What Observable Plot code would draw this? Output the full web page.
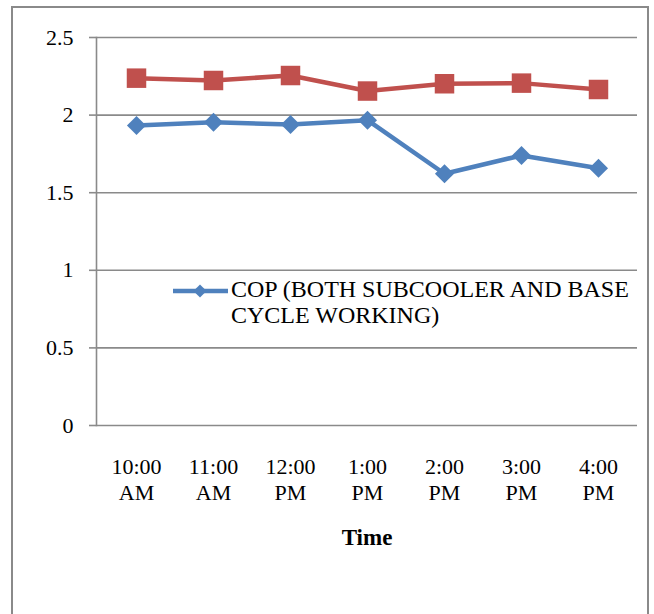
<!DOCTYPE html>
<html>
<head>
<meta charset="utf-8">
<script src="https://cdn.jsdelivr.net/npm/d3@7"></script>
<script src="https://cdn.jsdelivr.net/npm/@observablehq/plot@0.6"></script>
<style>
  html, body { margin: 0; padding: 0; background: #fff; overflow: hidden; }
  #wrap { position: relative; width: 654px; height: 614px; overflow: hidden; font-family: "Liberation Serif", "Times New Roman", serif; }
  #border { position: absolute; left: 11px; top: 6px; width: 638px; height: 700px; border: 2px solid #8a8a8a; box-sizing: border-box; }
  #chart { position: absolute; left: 0; top: 0; }
  #legend { position: absolute; left: 170px; top: 277px; }
  #legend .txt { position: absolute; left: 61px; top: -1px; font-family: "Liberation Serif", "Times New Roman", serif; font-size: 24px; line-height: 26px; white-space: nowrap; color: #000; }
</style>
</head>
<body>
<div id="wrap">
  <div id="border"></div>
  <div id="chart"></div>
  <div id="legend"></div>
</div>
<script>
const times = ["10:00 AM", "11:00 AM", "12:00 PM", "1:00 PM", "2:00 PM", "3:00 PM", "4:00 PM"];
const copBoth = [1.933, 1.954, 1.939, 1.967, 1.622, 1.740, 1.658];
const copOther = [2.238, 2.223, 2.255, 2.155, 2.202, 2.206, 2.165];
const yTicks = [0, 0.5, 1, 1.5, 2, 2.5];
const legendLabel = ["COP (BOTH SUBCOOLER AND BASE", "CYCLE WORKING)"];
const xTitle = "Time";

const blue = "#4f81bd";
const red = "#c0504d";

const dataBlue = times.map((t, i) => ({time: t, value: copBoth[i]}));
const dataRed = times.map((t, i) => ({time: t, value: copOther[i]}));

const chart = Plot.plot({
  width: 654,
  height: 614,
  marginLeft: 96,
  marginRight: 17,
  marginTop: 37,
  marginBottom: 189,
  style: {fontFamily: "'Liberation Serif', 'Times New Roman', serif", fontSize: "22px", color: "#000", background: "transparent"},
  x: {type: "point", domain: times, padding: 0.5},
  y: {domain: [0, 2.5]},
  marks: [
    Plot.gridY(yTicks, {stroke: "#8a8a8a", strokeOpacity: 1, strokeWidth: 1.6}),
    Plot.axisY(yTicks, {tickSize: 7, tickPadding: 16, stroke: "#8a8a8a", strokeWidth: 1.6, tickFormat: d => String(d), fontSize: 22, label: null}),
    Plot.frame({anchor: "left", stroke: "#8a8a8a", strokeWidth: 1.6}),
    Plot.axisX({tickSize: 0, tickPadding: 31, tickFormat: d => d.replace(" ", "\n"), fontSize: 22, lineHeight: 1.15, label: null}),
    Plot.text([xTitle], {frameAnchor: "bottom", dy: 119, fontWeight: "bold", fontSize: 23}),
    Plot.line(dataBlue, {x: "time", y: "value", stroke: blue, strokeWidth: 4.5}),
    Plot.line(dataRed, {x: "time", y: "value", stroke: red, strokeWidth: 4.5}),
    Plot.dot(dataBlue, {x: "time", y: "value", symbol: "diamond2", r: 8.6, fill: blue, stroke: "none"}),
    Plot.dot(dataRed, {x: "time", y: "value", symbol: "square", r: 11, fill: red, stroke: "none"})
  ]
});
document.getElementById("chart").appendChild(chart);

// legend (only the blue series entry is visible in the reference)
const leg = document.getElementById("legend");
const sw = d3.create("svg").attr("width", 60).attr("height", 30).style("position", "absolute").style("left", "0px").style("top", "0px");
sw.append("line").attr("x1", 3).attr("x2", 58).attr("y1", 14).attr("y2", 14).attr("stroke", blue).attr("stroke-width", 4.5);
sw.append("path").attr("d", d3.symbol(d3.symbolDiamond2, 110)()).attr("transform", "translate(30,14)").attr("fill", blue);
leg.appendChild(sw.node());
const txt = document.createElement("div");
txt.className = "txt";
txt.innerHTML = legendLabel.join("<br>");
leg.appendChild(txt);
</script>
</body>
</html>
